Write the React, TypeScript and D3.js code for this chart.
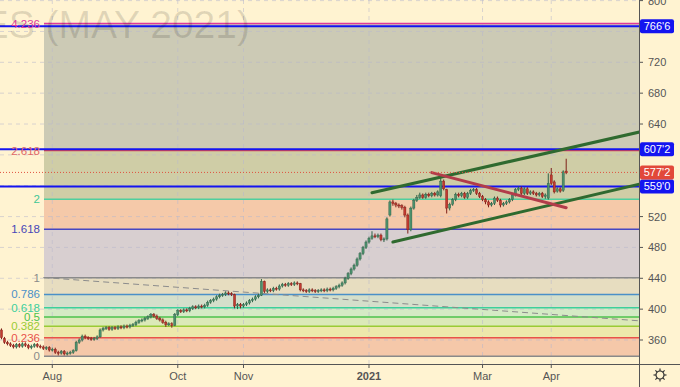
import React, { useEffect, useRef } from 'react';
import * as d3 from 'd3';

const W = 680;
const H = 387;
const plotRight = 639;
const axisY = 364;
const fibLeft = 44;

// trading days of the contract shown (exchange holidays skipped)
const firstDay = '2020-07-08';
const lastDay = '2021-04-09';
const holidays = ['2020-09-07', '2020-11-26', '2020-12-25', '2021-01-01', '2021-01-18', '2021-02-15', '2021-04-02'];

const opens = [
  368, 373, 362, 357, 355, 353, 351, 354, 352, 355, 353, 350, 352, 354, 352, 351, 349, 350, 347, 348,
  344, 343, 345, 342, 343, 344, 346, 357, 360, 365, 363, 362, 361, 362, 364, 373, 375, 376, 374, 376,
  375, 377, 376, 378, 377, 379, 380, 383, 385, 386, 388, 390, 393, 391, 388, 386, 383, 380, 381, 379,
  393, 398, 397, 399, 398, 401, 403, 402, 404, 403, 405, 409, 411, 413, 416, 418, 419, 421, 420, 419,
  404, 406, 404, 406, 408, 411, 413, 416, 418, 436, 423, 425, 424, 427, 426, 430, 432, 431, 433, 432,
  434, 433, 425, 424, 423, 425, 424, 423, 424, 425, 424, 426, 425, 427, 429, 431, 434, 440, 446, 452,
  457, 465, 472, 480, 487, 492, 495, 494, 496, 490, 491, 522, 539, 537, 535, 534, 532, 522, 503, 531,
  541, 545, 548, 545, 549, 547, 550, 548, 547, 566, 555, 531, 536, 542, 549, 547, 550, 545, 550, 554,
  555, 550, 546, 542, 539, 535, 537, 544, 541, 535, 537, 539, 542, 548, 555, 557, 550, 556, 550, 552,
  550, 548, 550, 546, 544, 574, 565, 553, 556, 554, 579
];
const highs = [
  376, 375, 364, 359, 357, 355, 356, 356, 357, 357, 355, 354, 356, 356, 354, 353, 352, 352, 350, 350,
  346, 347, 347, 345, 346, 348, 359, 362, 367, 367, 365, 364, 364, 366, 375, 377, 378, 378, 378, 378,
  379, 379, 380, 380, 381, 382, 385, 387, 388, 390, 392, 395, 395, 393, 390, 388, 385, 383, 383, 395,
  400, 400, 401, 401, 403, 405, 405, 406, 406, 407, 411, 413, 415, 418, 420, 421, 423, 423, 422, 420,
  408, 408, 408, 410, 413, 415, 418, 420, 439, 437, 427, 427, 429, 429, 432, 434, 434, 435, 435, 436,
  436, 434, 427, 426, 427, 427, 426, 426, 427, 427, 428, 428, 429, 431, 433, 436, 442, 448, 454, 459,
  467, 474, 482, 489, 494, 501, 498, 498, 498, 493, 519, 541, 542, 539, 537, 536, 534, 524, 533, 543,
  548, 551, 550, 551, 551, 552, 552, 554, 574, 568, 556, 538, 544, 551, 551, 552, 552, 552, 556, 557,
  557, 552, 548, 544, 541, 539, 546, 546, 543, 539, 541, 544, 550, 557, 559, 559, 558, 558, 554, 554,
  552, 552, 552, 550, 576, 583, 567, 558, 558, 580, 595
];
const lows = [
  366, 361, 355, 353, 351, 349, 349, 350, 350, 351, 348, 348, 350, 350, 349, 347, 347, 345, 345, 342,
  340, 341, 340, 340, 341, 342, 345, 355, 358, 361, 360, 359, 359, 360, 363, 371, 373, 372, 372, 373,
  373, 374, 374, 375, 375, 377, 378, 381, 383, 384, 386, 388, 389, 386, 384, 381, 377, 378, 376, 378,
  391, 395, 395, 396, 396, 399, 400, 400, 401, 401, 403, 407, 409, 411, 414, 416, 417, 418, 417, 401,
  400, 401, 402, 404, 406, 409, 411, 414, 417, 421, 421, 422, 422, 424, 424, 428, 429, 429, 430, 430,
  431, 423, 422, 421, 421, 422, 421, 421, 422, 422, 422, 423, 423, 425, 427, 429, 432, 438, 444, 450,
  455, 463, 470, 478, 485, 490, 492, 492, 488, 487, 489, 520, 534, 532, 531, 529, 519, 498, 501, 529,
  539, 543, 543, 543, 545, 545, 546, 546, 545, 554, 524, 528, 534, 540, 545, 545, 543, 543, 548, 552,
  548, 544, 540, 536, 532, 533, 535, 539, 532, 533, 535, 537, 540, 546, 553, 548, 548, 548, 548, 548,
  546, 546, 544, 543, 542, 561, 550, 551, 551, 552, 575
];
const closes = [
  373, 363, 357, 355, 353, 351, 354, 352, 355, 353, 350, 352, 354, 352, 351, 349, 350, 347, 348, 344,
  343, 345, 342, 343, 344, 346, 357, 360, 365, 363, 362, 361, 362, 364, 373, 375, 376, 374, 376, 375,
  377, 376, 378, 377, 379, 380, 383, 385, 386, 388, 390, 393, 391, 388, 386, 383, 380, 381, 379, 393,
  398, 397, 399, 398, 401, 403, 402, 404, 403, 405, 409, 411, 413, 416, 418, 419, 421, 420, 419, 404,
  406, 404, 406, 408, 411, 413, 416, 418, 436, 423, 425, 424, 427, 426, 430, 432, 431, 433, 432, 434,
  433, 425, 424, 423, 425, 424, 423, 424, 425, 424, 426, 425, 427, 429, 431, 434, 440, 446, 452, 457,
  465, 472, 480, 487, 492, 495, 494, 496, 490, 491, 517, 539, 537, 535, 534, 532, 522, 503, 531, 541,
  545, 548, 545, 549, 547, 550, 548, 552, 566, 556, 531, 536, 542, 549, 547, 550, 545, 550, 554, 555,
  550, 546, 542, 539, 535, 537, 544, 541, 535, 537, 539, 542, 548, 555, 557, 550, 556, 550, 552, 550,
  548, 550, 546, 548, 563, 563, 552, 556, 553, 578, 577.25
];

const monthTickDays = ['2020-08-03', '2020-10-01', '2020-11-02', '2021-01-04', '2021-03-01', '2021-04-01'];
const monthLabels = ['Aug', 'Oct', 'Nov', '2021', 'Mar', 'Apr'];
const priceTicks = [360, 400, 440, 480, 520, 560, 600, 640, 680, 720, 760, 800];

// fibonacci extension, 0 and 1 anchors
const fibLow = 339;
const fibHigh = 440.8;
const fibRatios = [0, 0.236, 0.382, 0.5, 0.618, 0.786, 1, 1.618, 2, 2.618, 4.236];
const fibLabels = ['0', '0.236', '0.382', '0.5', '0.618', '0.786', '1', '1.618', '2', '2.618', '4.236'];
const fibLineColors = ['#8a8a8a', '#e8524a', '#9acb34', '#4cc24c', '#3ccf9c', '#4a90c8', '#8a8a8a', '#4747c2', '#4fcf9e', '#e04444', '#e0399a'];
const fibTextColors = ['#8a8a8a', '#e8524a', '#9acb34', '#4cc24c', '#3ccf9c', '#4a90c8', '#8a8a8a', '#4747b8', '#3fc795', '#e06666', '#e0399a'];
const fibZoneColors = ['#f5c8a9', '#ede8ab', '#dbe9b8', '#d5eac5', '#d4dfcb', '#e7ddc0', '#d8cfd0', '#f5c9a9', '#cfcda6', '#cccab5'];

// horizontal levels and last price
const levelValues = [766.75, 607.25, 559];
const levelLabels = ["766'6", "607'2", "559'0"];
const lastPrice = 577.25;
const lastLabel = "577'2";

// drawn trendlines [bar index, price]
const greenLines = [
  [[125, 551], [215, 630]],
  [[132, 487], [215, 562.5]]
];
const redLine = [[145, 577], [190, 531.5]];
const dashedLine = [[15, 441], [215, 384.7]];

function tradingDays() {
  const out: string[] = [];
  const d = new Date(firstDay + 'T12:00:00Z');
  const end = new Date(lastDay + 'T12:00:00Z');
  const fmt = d3.utcFormat('%Y-%m-%d');
  while (d <= end) {
    const s = fmt(d);
    const wd = d.getUTCDay();
    if (wd !== 0 && wd !== 6 && !holidays.includes(s)) out.push(s);
    d.setUTCDate(d.getUTCDate() + 1);
  }
  return out;
}

export default function App() {
  const svgRef = useRef<SVGSVGElement>(null);

  useEffect(() => {
    const svg = d3.select(svgRef.current);
    svg.selectAll('*').remove();
    const days = tradingDays();

    const x = d3.scaleLinear().domain([0, 190]).range([-1.5, 566.2]);
    const y = d3.scaleLinear().domain([360, 800]).range([340, 0.6]);
    const font = '"Liberation Sans", Arial, sans-serif';

    svg.append('rect').attr('width', W).attr('height', H).attr('fill', '#fff3d1');

    svg.append('defs').append('clipPath').attr('id', 'plot')
      .append('rect').attr('x', 0).attr('y', 0).attr('width', plotRight).attr('height', axisY);
    const plot = svg.append('g').attr('clip-path', 'url(#plot)');

    // fib zones
    const fibVal = (r: number) => fibLow + r * (fibHigh - fibLow);
    plot.selectAll('.zone').data(fibZoneColors).join('rect')
      .attr('x', fibLeft)
      .attr('width', plotRight - fibLeft)
      .attr('y', (c, i) => y(fibVal(fibRatios[i + 1])))
      .attr('height', (c, i) => y(fibVal(fibRatios[i])) - y(fibVal(fibRatios[i + 1])))
      .attr('fill', c => c);

    // grid
    plot.selectAll('.hgrid').data(priceTicks).join('line')
      .attr('x1', 0).attr('x2', plotRight)
      .attr('y1', d => y(d)).attr('y2', d => y(d))
      .attr('stroke', '#b8b8cc').attr('stroke-opacity', 0.55).attr('stroke-dasharray', '4,4');
    const tickIdx = monthTickDays.map(s => days.indexOf(s));
    plot.selectAll('.vgrid').data(tickIdx).join('line')
      .attr('x1', d => x(d)).attr('x2', d => x(d))
      .attr('y1', 0).attr('y2', axisY)
      .attr('stroke', '#b8b8cc').attr('stroke-opacity', 0.55).attr('stroke-dasharray', '4,4');

    // watermark
    svg.append('text')
      .attr('x', 250).attr('y', 38).attr('text-anchor', 'end')
      .attr('font-family', font).attr('font-size', 39)
      .attr('fill', '#000').attr('fill-opacity', 0.12)
      .text('ES (MAY 2021)');

    // fib lines + labels
    plot.selectAll('.fibline').data(fibRatios).join('line')
      .attr('x1', fibLeft).attr('x2', plotRight)
      .attr('y1', r => y(fibVal(r))).attr('y2', r => y(fibVal(r)))
      .attr('stroke', (r, i) => fibLineColors[i]).attr('stroke-width', 1.5);
    svg.selectAll('.fiblabel').data(fibRatios).join('text')
      .attr('x', 40).attr('y', r => y(fibVal(r)))
      .attr('text-anchor', 'end').attr('dominant-baseline', 'central')
      .attr('font-family', font).attr('font-size', 11.5)
      .attr('fill', (r, i) => fibTextColors[i])
      .text((r, i) => fibLabels[i]);

    // dashed long trendline
    plot.append('line')
      .attr('x1', x(dashedLine[0][0])).attr('y1', y(dashedLine[0][1]))
      .attr('x2', x(dashedLine[1][0])).attr('y2', y(dashedLine[1][1]))
      .attr('stroke', '#8c8c8c').attr('stroke-width', 1).attr('stroke-dasharray', '6,4');

    // horizontal blue levels
    plot.selectAll('.level').data(levelValues).join('line')
      .attr('x1', 0).attr('x2', plotRight)
      .attr('y1', d => y(d)).attr('y2', d => y(d))
      .attr('stroke', '#1414f0').attr('stroke-width', 2);

    // candles
    const idx = d3.range(closes.length);
    const up = (i: number) => closes[i] >= opens[i];
    plot.selectAll('.wick').data(idx).join('line')
      .attr('x1', i => x(i)).attr('x2', i => x(i))
      .attr('y1', i => y(highs[i])).attr('y2', i => y(lows[i]))
      .attr('stroke', i => up(i) ? '#2f6148' : '#7e2019').attr('stroke-width', 1);
    plot.selectAll('.body').data(idx).join('rect')
      .attr('x', i => x(i) - 1.1).attr('width', 2.2)
      .attr('y', i => y(Math.max(opens[i], closes[i])))
      .attr('height', i => Math.max(1, Math.abs(y(opens[i]) - y(closes[i]))))
      .attr('fill', i => up(i) ? '#4b8f6c' : '#c23a30')
      .attr('stroke', i => up(i) ? '#2f6148' : '#7e2019').attr('stroke-width', 0.4);

    // trendlines
    greenLines.forEach(l => {
      plot.append('line')
        .attr('x1', x(l[0][0])).attr('y1', y(l[0][1]))
        .attr('x2', x(l[1][0])).attr('y2', y(l[1][1]))
        .attr('stroke', '#2f6a2f').attr('stroke-width', 3).attr('stroke-linecap', 'round');
    });
    plot.append('line')
      .attr('x1', x(redLine[0][0])).attr('y1', y(redLine[0][1]))
      .attr('x2', x(redLine[1][0])).attr('y2', y(redLine[1][1]))
      .attr('stroke', '#b23c4a').attr('stroke-width', 3).attr('stroke-linecap', 'round');

    // last price dotted line
    plot.append('line')
      .attr('x1', 0).attr('x2', plotRight)
      .attr('y1', y(lastPrice)).attr('y2', y(lastPrice))
      .attr('stroke', '#e0523f').attr('stroke-width', 1).attr('stroke-dasharray', '1,2');

    // axes
    svg.append('line').attr('x1', 0).attr('x2', W).attr('y1', axisY + 0.5).attr('y2', axisY + 0.5)
      .attr('stroke', '#555');
    svg.append('line').attr('x1', plotRight + 0.5).attr('x2', plotRight + 0.5).attr('y1', 0).attr('y2', H)
      .attr('stroke', '#555');

    // bottom ticks
    svg.selectAll('.xtick').data(tickIdx).join('line')
      .attr('x1', d => x(d)).attr('x2', d => x(d))
      .attr('y1', axisY).attr('y2', axisY + 4)
      .attr('stroke', '#555');
    svg.selectAll('.xlabel').data(tickIdx).join('text')
      .attr('x', d => x(d)).attr('y', 376)
      .attr('text-anchor', 'middle').attr('dominant-baseline', 'central')
      .attr('font-family', font).attr('font-size', 11)
      .attr('font-weight', (d, i) => monthLabels[i] === '2021' ? 'bold' : 'normal')
      .attr('fill', '#555')
      .text((d, i) => monthLabels[i]);

    // right price axis, hide labels under the level boxes
    const boxYs = levelValues.concat([lastPrice]).map(v => y(v));
    const shown = priceTicks.filter(t => boxYs.every(b => Math.abs(y(t) - b) > 13));
    svg.selectAll('.ytick').data(shown).join('line')
      .attr('x1', plotRight).attr('x2', plotRight + 4)
      .attr('y1', d => y(d)).attr('y2', d => y(d))
      .attr('stroke', '#555');
    svg.selectAll('.ylabel').data(shown).join('text')
      .attr('x', 648).attr('y', d => y(d))
      .attr('dominant-baseline', 'central')
      .attr('font-family', font).attr('font-size', 11)
      .attr('fill', '#555')
      .text(d => d);

    // level boxes
    const boxes = levelValues.map((v, i) => ({ v, label: levelLabels[i], color: '#1414f0' }))
      .concat([{ v: lastPrice, label: lastLabel, color: '#e2483a' }]);
    const bg = svg.selectAll('.box').data(boxes).join('g')
      .attr('transform', d => `translate(640,${y(d.v)})`);
    bg.append('rect').attr('x', 0).attr('y', -7).attr('width', 34).attr('height', 14).attr('rx', 2)
      .attr('fill', d => d.color);
    bg.append('text').attr('x', 17).attr('y', 0)
      .attr('text-anchor', 'middle').attr('dominant-baseline', 'central')
      .attr('font-family', font).attr('font-size', 11).attr('fill', '#fff')
      .text(d => d.label);

    // settings gear
    const gear = svg.append('g').attr('transform', 'translate(660,375)')
      .attr('stroke', '#333').attr('fill', 'none').attr('stroke-width', 1.2);
    gear.append('circle').attr('r', 4);
    gear.selectAll('line').data(d3.range(8)).join('line')
      .attr('x1', a => Math.cos(a * Math.PI / 4) * 4).attr('y1', a => Math.sin(a * Math.PI / 4) * 4)
      .attr('x2', a => Math.cos(a * Math.PI / 4) * 6.5).attr('y2', a => Math.sin(a * Math.PI / 4) * 6.5);
  }, []);

  return (
    <svg ref={svgRef} width={W} height={H}
      style={{ position: 'absolute', left: 0, top: 0, display: 'block' }} />
  );
}
